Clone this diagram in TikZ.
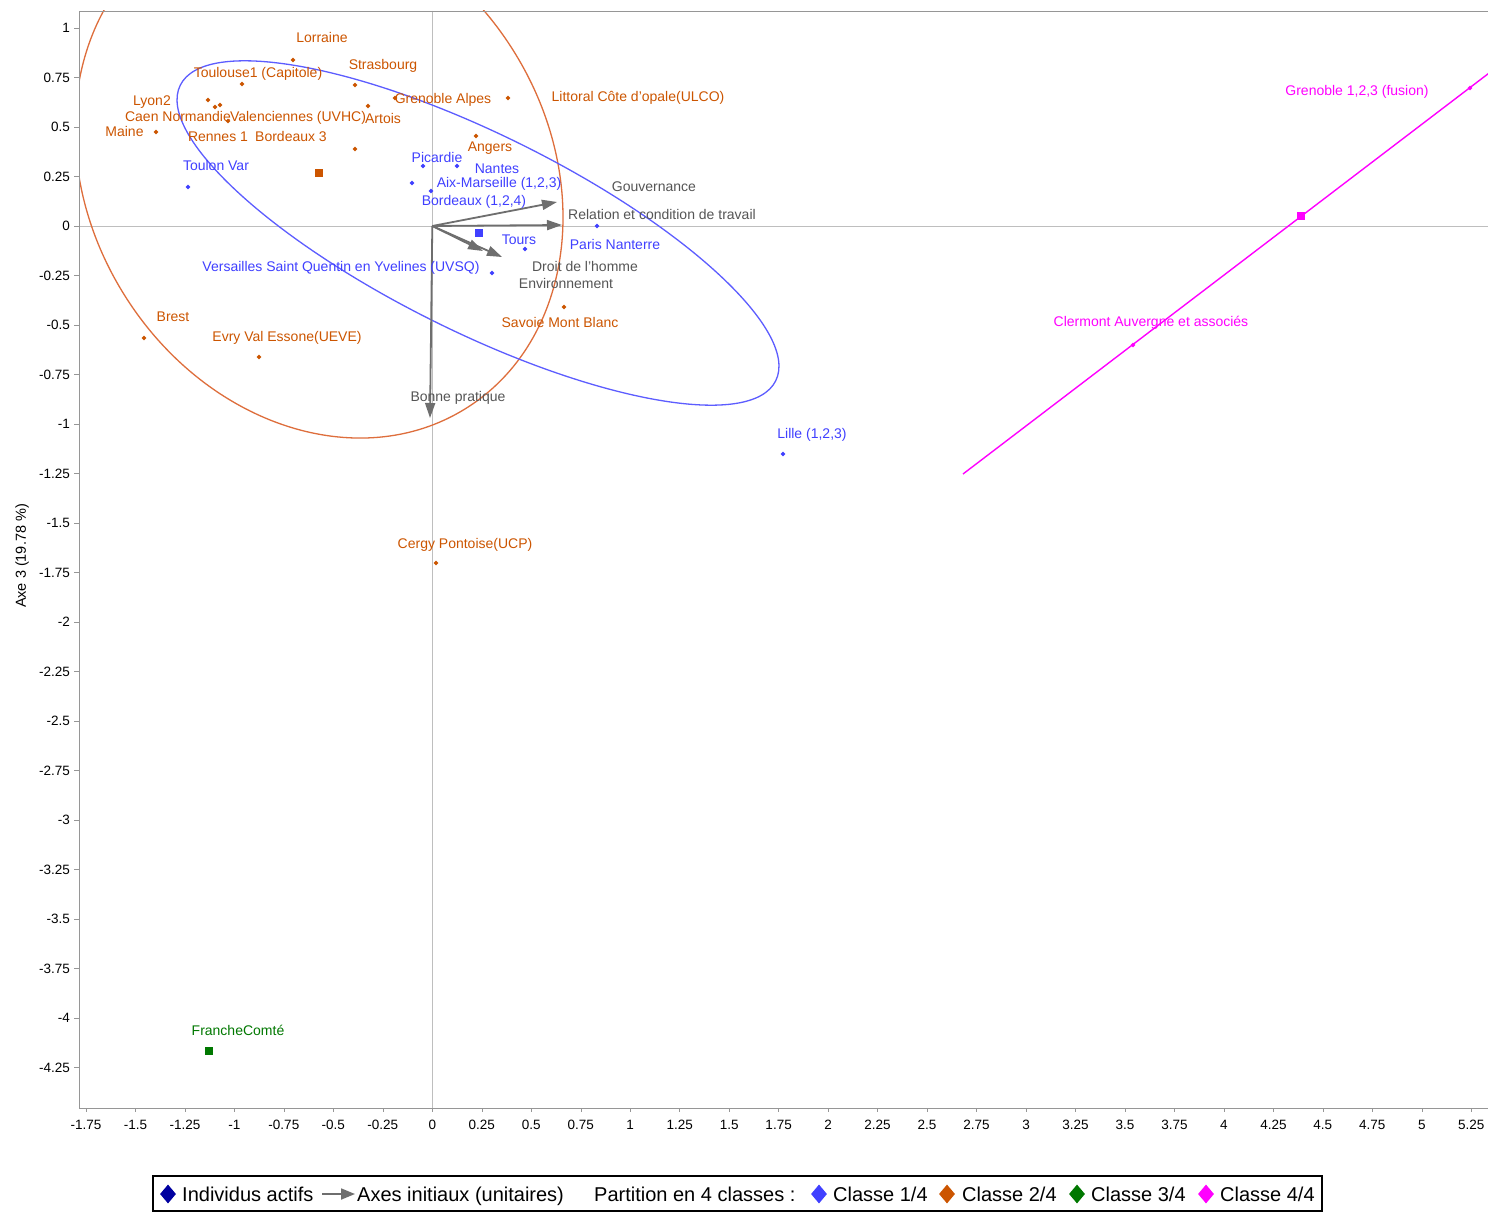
\documentclass[tikz,border=0pt]{standalone}
\usepackage{fontspec}
\setmainfont{Liberation Sans}
\usetikzlibrary{shapes.geometric,arrows.meta}
\definecolor{cone}{RGB}{64,64,255}
\definecolor{ctwo}{RGB}{204,85,0}
\definecolor{ctwoell}{RGB}{222,110,60}
\definecolor{cthree}{RGB}{0,120,0}
\definecolor{cfour}{RGB}{255,0,255}
\definecolor{carrow}{RGB}{110,110,110}
\definecolor{ctext}{RGB}{85,85,85}
\definecolor{cnavy}{RGB}{0,0,160}
\definecolor{cframe}{RGB}{150,150,150}
\definecolor{caxis}{RGB}{190,190,190}
\begin{document}
\begin{tikzpicture}[x=1pt,y=-1pt,
 lbl/.style={font=\fontsize{14}{16}\selectfont, inner sep=0pt, text height=10pt, text depth=0pt, anchor=center},
 pt/.style={diamond, inner sep=0pt, minimum size=5pt, fill=#1},
 ctr/.style={rectangle, inner sep=0pt, minimum size=8pt, fill=#1},
 vec/.style={draw=carrow, line width=1.8pt, -{Triangle[length=15pt,width=10pt]}},
 ticklbl/.style={font=\fontsize{13.5}{15}\selectfont, inner sep=0pt, text height=9.7pt, text depth=0pt},
 leg/.style={font=\fontsize{20}{22}\selectfont, inner sep=0pt, text height=14.3pt, text depth=0pt, anchor=west},
 legmark/.style={diamond, inner sep=0pt, minimum width=16pt, minimum height=19pt, fill=#1}
]
\useasboundingbox (0,0) rectangle (1488,1214);
\fill[white] (0,0) rectangle (1488,1214);

% axes through origin
\draw[caxis] (79,226) -- (1488,226);
\draw[caxis] (432.3,11) -- (432.3,1108);

% ellipses and class-4 segment
\begin{scope}
\clip (79,11) rectangle (1488,1108);
\draw[ctwoell, line width=1.3pt, rotate around={-58.1:(319,173)}] (319,173) ellipse [x radius=277.5, y radius=229.7];
\draw[cone!85!white, line width=1.3pt, rotate around={-26.4:(478,233)}] (478,233) ellipse [x radius=332.4, y radius=98.6];
\coordinate (m1) at (963,474);
\coordinate (m2) at (1640,-42);
\draw[cfour, line width=1.4pt] (m1) -- (m2);
\end{scope}

% frame
\draw[cframe] (1488,11) -- (79,11) -- (79,1108) -- (1488,1108);

% x ticks
\foreach \v [count=\i] in {-1.75,-1.5,-1.25,-1,-0.75,-0.5,-0.25,0,0.25,0.5,0.75,1,1.25,1.5,1.75,2,2.25,2.5,2.75,3,3.25,3.5,3.75,4,4.25,4.5,4.75,5,5.25}{
  \pgfmathsetmacro{\xx}{432.3+197.9*\v}
  \draw[cframe] (\xx,1108) -- (\xx,1112);
  \node[ticklbl] (xt\i) at (\xx,1125) {\v};
}
% y ticks
\foreach \v [count=\i] in {1,0.75,0.5,0.25,0,-0.25,-0.5,-0.75,-1,-1.25,-1.5,-1.75,-2,-2.25,-2.5,-2.75,-3,-3.25,-3.5,-3.75,-4,-4.25}{
  \pgfmathsetmacro{\yy}{226-198*\v}
  \draw[cframe] (74,\yy) -- (79,\yy);
  \node[ticklbl, anchor=east] (yt\i) at (70,\yy) {\v};
}
\node[font=\fontsize{14.5}{16}\selectfont, rotate=90, inner sep=0pt] (ylab) at (22,556) {Axe 3 (19.78 \%)};

% vectors (initial axes)
\coordinate (O) at (432.3,226);
\coordinate (tGouv) at (557,202);
\coordinate (tRel) at (562,225);
\coordinate (tDroit) at (483,251);
\coordinate (tEnv) at (502,257);
\coordinate (tBonne) at (430,418);
\draw[vec] (O) -- (tGouv);
\draw[vec] (O) -- (tRel);
\draw[vec] (O) -- (tDroit);
\draw[vec] (O) -- (tEnv);
\draw[vec] (O) -- (tBonne);
\node[lbl, text=ctext] (lGouv) at (654,187) {Gouvernance};
\node[lbl, text=ctext] (lRel) at (662,215) {Relation et condition de travail};
\node[lbl, text=ctext] (lDroit) at (585,267) {Droit de l'homme};
\node[lbl, text=ctext] (lEnv) at (566,284) {Environnement};
\node[lbl, text=ctext] (lBonne) at (458,396) {Bonne pratique};

% class 2/4 (orange)
\node[pt=ctwo] (pLorraine) at (293,60) {};
\node[pt=ctwo] (pToulouse) at (242,84) {};
\node[pt=ctwo] (pStras) at (355,85) {};
\node[pt=ctwo] (pLyon) at (208,100) {};
\node[pt=ctwo] (pCaen) at (215,107) {};
\node[pt=ctwo] (pValen) at (220,105) {};
\node[pt=ctwo] (pRennes) at (228,121) {};
\node[pt=ctwo] (pMaine) at (156,132) {};
\node[pt=ctwo] (pArtois) at (368,106) {};
\node[pt=ctwo] (pGrenA) at (395,98) {};
\node[pt=ctwo] (pLitt) at (508,98) {};
\node[pt=ctwo] (pAngers) at (476,136) {};
\node[pt=ctwo] (pBord3) at (355,149) {};
\node[pt=ctwo] (pSavoie) at (564,307) {};
\node[pt=ctwo] (pBrest) at (144,338) {};
\node[pt=ctwo] (pEvry) at (259,357) {};
\node[pt=ctwo] (pCergy) at (436,563) {};
\node[ctr=ctwo] (cTwo) at (319,173) {};
\node[lbl, text=ctwo] (lLorraine) at (322,38) {Lorraine};
\node[lbl, text=ctwo] (lStras) at (383,65) {Strasbourg};
\node[lbl, text=ctwo] (lToulouse) at (258,73) {Toulouse1 (Capitole)};
\node[lbl, text=ctwo] (lLyon) at (152,101) {Lyon2};
\node[lbl, text=ctwo] (lGrenA) at (443,99) {Grenoble Alpes};
\node[lbl, text=ctwo] (lLitt) at (638,97) {Littoral Côte d'opale(ULCO)};
\node[lbl, text=ctwo] (lCaen) at (178,117) {Caen Normandie};
\node[lbl, text=ctwo] (lValen) at (298,117) {Valenciennes (UVHC)};
\node[lbl, text=ctwo] (lArtois) at (383,119) {Artois};
\node[lbl, text=ctwo] (lMaine) at (124.5,132) {Maine};
\node[lbl, text=ctwo] (lRennes) at (218,137) {Rennes 1};
\node[lbl, text=ctwo] (lBord3) at (291,137) {Bordeaux 3};
\node[lbl, text=ctwo] (lAngers) at (490,147) {Angers};
\node[lbl, text=ctwo] (lSavoie) at (560,323) {Savoie Mont Blanc};
\node[lbl, text=ctwo] (lBrest) at (173,317) {Brest};
\node[lbl, text=ctwo] (lEvry) at (287,337) {Evry Val Essone(UEVE)};
\node[lbl, text=ctwo] (lCergy) at (465,543) {Cergy Pontoise(UCP)};

% class 1/4 (blue)
\node[pt=cone] (pToulon) at (188,187) {};
\node[pt=cone] (pPicardie) at (423,166) {};
\node[pt=cone] (pNantes) at (457,166) {};
\node[pt=cone] (pAix) at (412,183) {};
\node[pt=cone] (pBordB) at (431,191) {};
\node[pt=cone] (pTours) at (525,249) {};
\node[pt=cone] (pParis) at (597,226) {};
\node[pt=cone] (pVersailles) at (492,273) {};
\node[pt=cone] (pLille) at (783,454) {};
\node[ctr=cone] (cOne) at (479,233) {};
\node[lbl, text=cone] (lToulon) at (216,166) {Toulon Var};
\node[lbl, text=cone] (lPicardie) at (437,158) {Picardie};
\node[lbl, text=cone] (lNantes) at (497,169) {Nantes};
\node[lbl, text=cone] (lAix) at (499,183) {Aix-Marseille (1,2,3)};
\node[lbl, text=cone] (lBordB) at (474,201) {Bordeaux (1,2,4)};
\node[lbl, text=cone] (lTours) at (519,240) {Tours};
\node[lbl, text=cone] (lParis) at (615,245) {Paris Nanterre};
\node[lbl, text=cone] (lVersailles) at (341,267) {Versailles Saint Quentin en Yvelines (UVSQ)};
\node[lbl, text=cone] (lLille) at (812,433) {Lille (1,2,3)};

% class 3/4 (green)
\node[ctr=cthree] (cThree) at (209,1051) {};
\node[lbl, text=cthree] (lFranche) at (238,1030) {FrancheComté};

% class 4/4 (magenta)
\node[pt=cfour] (pGrenF) at (1470,88) {};
\node[pt=cfour] (pClermont) at (1133,345) {};
\node[ctr=cfour] (cFour) at (1301,216) {};
\node[lbl, text=cfour] (lGrenF) at (1357,91) {Grenoble 1,2,3 (fusion)};
\node[lbl, text=cfour] (lClermont) at (1151,322) {Clermont Auvergne et associés};

% legend
\draw[line width=1.6pt] (153,1176) rectangle (1322,1211);
\node[legmark=cnavy] (mk0) at (168,1194) {};
\node[leg] (lg0) at (182,1194) {Individus actifs};
\coordinate (la1) at (322,1194);
\coordinate (la2) at (355,1194);
\draw[carrow, line width=1.8pt, -{Triangle[length=14pt,width=11pt]}] (la1) -- (la2);
\node[leg] (lg1) at (357,1194) {Axes initiaux (unitaires)};
\node[leg] (lg2) at (594,1194) {Partition en 4 classes :};
\node[legmark=cone] (mk1) at (819,1194) {};
\node[leg] (lg3) at (833,1194) {Classe 1/4};
\node[legmark=ctwo] (mk2) at (947,1194) {};
\node[leg] (lg4) at (962,1194) {Classe 2/4};
\node[legmark=cthree] (mk3) at (1077,1194) {};
\node[leg] (lg5) at (1091,1194) {Classe 3/4};
\node[legmark=cfour] (mk4) at (1206,1194) {};
\node[leg] (lg6) at (1220,1194) {Classe 4/4};
\end{tikzpicture}
\end{document}
